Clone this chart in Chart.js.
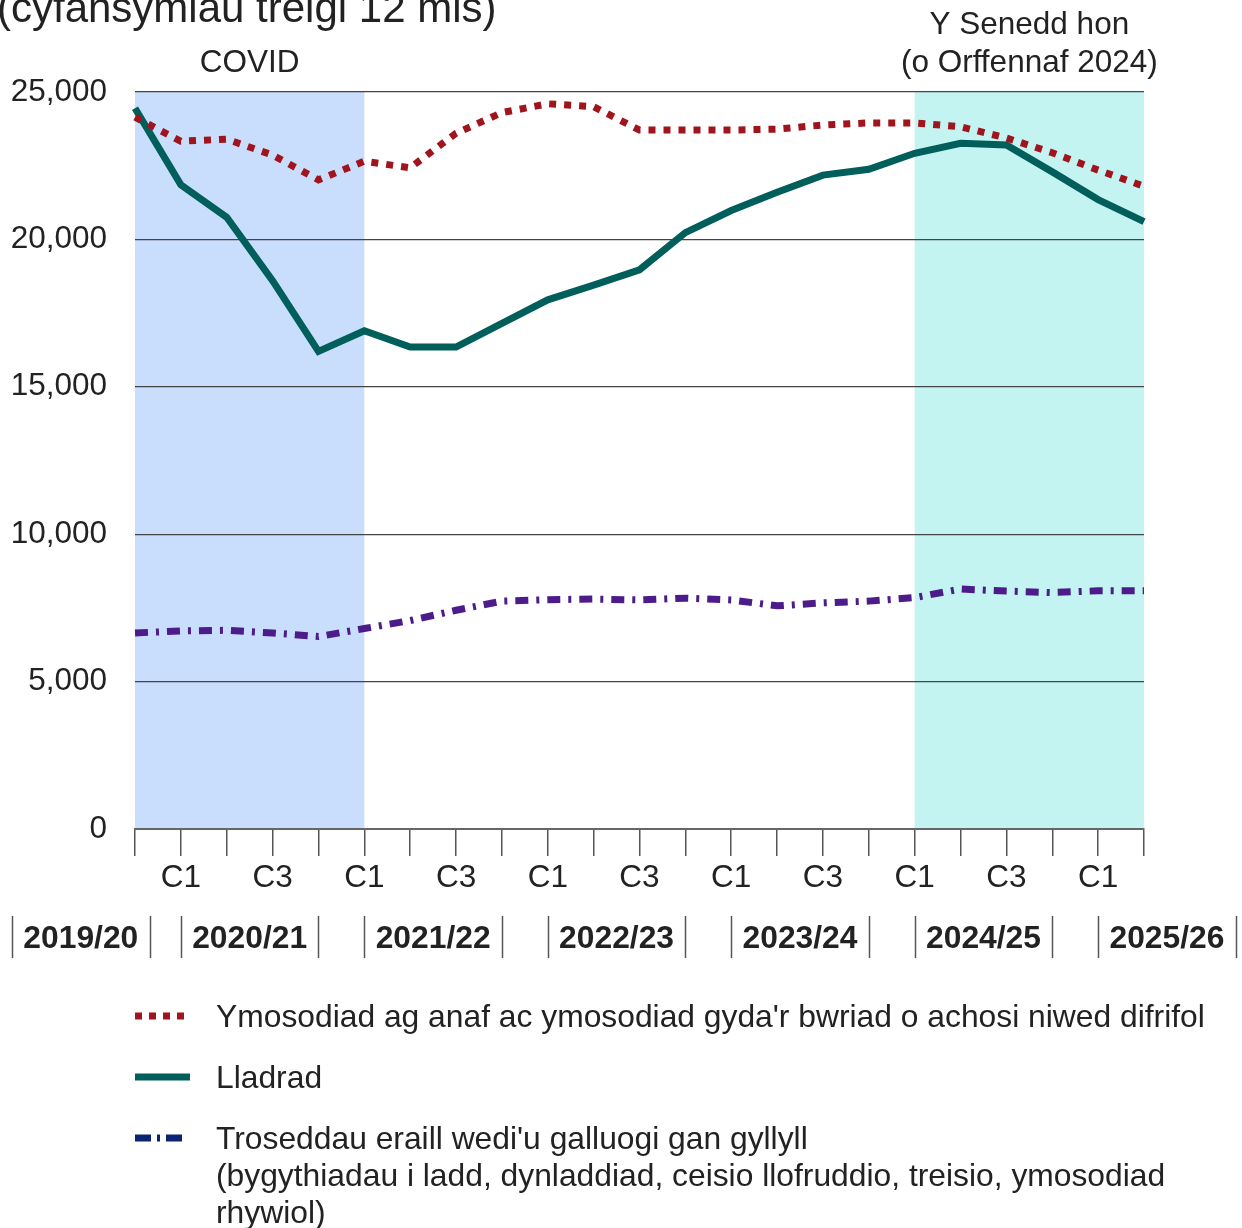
<!DOCTYPE html>
<html>
<head>
<meta charset="utf-8">
<title>Troseddau cyllyll</title>
<script src="https://cdn.jsdelivr.net/npm/chart.js@4"></script>
<style>
  body { margin: 0; background: #fff; }
  canvas { display: block; }
</style>
</head>
<body>
<canvas id="chart" width="1242" height="1228"></canvas>
<script>
// Data (rolling 12 month totals)
const periods = [
  '2019/20 C4',
  '2020/21 C1', '2020/21 C2', '2020/21 C3', '2020/21 C4',
  '2021/22 C1', '2021/22 C2', '2021/22 C3', '2021/22 C4',
  '2022/23 C1', '2022/23 C2', '2022/23 C3', '2022/23 C4',
  '2023/24 C1', '2023/24 C2', '2023/24 C3', '2023/24 C4',
  '2024/25 C1', '2024/25 C2', '2024/25 C3', '2024/25 C4',
  '2025/26 C1', '2025/26 C2'
];
const years = ['2019/20', '2020/21', '2021/22', '2022/23', '2023/24', '2024/25', '2025/26'];
const shownQuarters = ['C1', 'C3'];
const yTicks = [0, 5000, 10000, 15000, 20000, 25000];

const ymosodiad = [24150, 23330, 23400, 22860, 22020, 22650, 22430, 23600, 24300, 24600, 24500, 23710,
  23710, 23710, 23740, 23880, 23950, 23950, 23820, 23440, 22940, 22350, 21800];
const lladrad = [24450, 21850, 20750, 18600, 16200, 16900, 16350, 16350, 17150, 17950, 18450, 18970,
  20230, 20980, 21600, 22180, 22380, 22920, 23260, 23200, 22290, 21350, 20600];
const troseddauEraill = [6650, 6720, 6740, 6650, 6530, 6800, 7070, 7420, 7730, 7780, 7800, 7770,
  7830, 7770, 7570, 7670, 7730, 7850, 8140, 8070, 8020, 8080, 8080];

const seriesNames = [
  "Ymosodiad ag anaf ac ymosodiad gyda'r bwriad o achosi niwed difrifol",
  'Lladrad',
  "Troseddau eraill wedi'u galluogi gan gyllyll"
];
const extraLegendLines = [
  '(bygythiadau i ladd, dynladdiad, ceisio llofruddio, treisio, ymosodiad',
  'rhywiol)'
];

const covidBand = ['2019/20 C4', '2021/22 C1'];
const seneddBand = ['2024/25 C1', '2025/26 C2'];

const FONT = "'Liberation Sans', Arial, sans-serif";
const TEXT = '#222';

Chart.defaults.font.family = FONT;
Chart.defaults.color = TEXT;

function drawBand(ctx, area, x, band, color) {
  const x0 = x.getPixelForValue(periods.indexOf(band[0]));
  const x1 = x.getPixelForValue(periods.indexOf(band[1]));
  ctx.fillStyle = color;
  ctx.fillRect(x0, area.top, x1 - x0, area.bottom - area.top);
}

function sample(ctx, x0, x1, y, color, width, dash) {
  ctx.save();
  ctx.strokeStyle = color;
  ctx.lineWidth = width;
  ctx.setLineDash(dash);
  ctx.beginPath();
  ctx.moveTo(x0, y);
  ctx.lineTo(x1, y);
  ctx.stroke();
  ctx.restore();
}

const extras = {
  id: 'extras',
  beforeDraw(chart) {
    const { ctx, chartArea, scales: { x } } = chart;
    ctx.save();
    drawBand(ctx, chartArea, x, covidBand, '#c9ddfd');
    drawBand(ctx, chartArea, x, seneddBand, '#c3f4f2');
    ctx.restore();
  },
  afterDraw(chart) {
    const { ctx, scales: { x } } = chart;
    ctx.save();
    ctx.fillStyle = TEXT;

    // title (cut off at the top, as in the source)
    ctx.font = '42px ' + FONT;
    ctx.textAlign = 'left';
    ctx.fillText('(cyfansymiau treigl 12 mis)', -3, 22);

    // band captions
    ctx.font = '31.5px ' + FONT;
    ctx.textAlign = 'center';
    const cx = (band) => (x.getPixelForValue(periods.indexOf(band[0])) + x.getPixelForValue(periods.indexOf(band[1]))) / 2;
    ctx.fillText('COVID', cx(covidBand), 72);
    ctx.fillText('Y Senedd hon', cx(seneddBand), 34);
    ctx.fillText('(o Orffennaf 2024)', cx(seneddBand), 72);

    // financial year row
    ctx.font = 'bold 31.8px ' + FONT;
    ctx.strokeStyle = '#555';
    ctx.lineWidth = 1.5;
    years.forEach(year => {
      const i = periods.findIndex(p => p.startsWith(year));
      const q = parseInt(periods[i].split(' ')[1].slice(1), 10);
      let left = x.getPixelForValue(i - (q - 1));
      let right = x.getPixelForValue(i - (q - 1) + 3);
      if (left < 12) { right += 12 - left; left = 12; }
      [left, right].forEach(px => {
        ctx.beginPath();
        ctx.moveTo(Math.round(px) + 0.5, 916);
        ctx.lineTo(Math.round(px) + 0.5, 958);
        ctx.stroke();
      });
      ctx.fillText(year, (left + right) / 2, 948);
    });

    // legend
    sample(ctx, 135, 190, 1016, '#a0141e', 7, [7, 7]);
    sample(ctx, 135, 190, 1077, '#005e5b', 7, []);
    sample(ctx, 135, 184, 1138, '#0a2372', 7, [16, 6, 3, 6]);
    ctx.font = '31.8px ' + FONT;
    ctx.textAlign = 'left';
    ctx.fillStyle = TEXT;
    ctx.fillText(seriesNames[0], 216, 1027);
    ctx.fillText(seriesNames[1], 216, 1088);
    ctx.fillText(seriesNames[2], 216, 1149);
    ctx.fillText(extraLegendLines[0], 216, 1186);
    ctx.fillText(extraLegendLines[1], 216, 1223);
    ctx.restore();
  }
};

const ctx = document.getElementById('chart').getContext('2d');
const chart = new Chart(ctx, {
  type: 'line',
  data: {
    labels: periods,
    datasets: [
      {
        label: seriesNames[0],
        data: ymosodiad,
        borderColor: '#a0141e',
        borderWidth: 7,
        borderDash: [7, 8],
        pointRadius: 0,
        tension: 0,
        fill: false
      },
      {
        label: seriesNames[1],
        data: lladrad,
        borderColor: '#005e5b',
        borderWidth: 7,
        pointRadius: 0,
        tension: 0,
        fill: false
      },
      {
        label: seriesNames[2],
        data: troseddauEraill,
        borderColor: '#4b1c8a',
        borderWidth: 7,
        borderDash: [13, 8, 3, 8],
        pointRadius: 0,
        tension: 0,
        fill: false
      }
    ]
  },
  options: {
    responsive: false,
    animation: false,
    layout: {
      padding: { left: 0, right: 98, top: 92, bottom: 0 }
    },
    plugins: {
      legend: { display: false },
      tooltip: { enabled: false }
    },
    scales: {
      x: {
        afterFit: (scale) => { scale.height = 399; },
        grid: {
          drawOnChartArea: false,
          drawTicks: true,
          tickLength: 27,
          color: '#555',
          lineWidth: 1.5
        },
        border: { color: '#666', width: 2 },
        ticks: {
          autoSkip: false,
          maxRotation: 0,
          padding: 3,
          color: TEXT,
          font: { size: 31.5 },
          callback: (value, index) => {
            const q = periods[index].split(' ')[1];
            return shownQuarters.includes(q) ? q : '';
          }
        }
      },
      y: {
        min: yTicks[0],
        max: yTicks[yTicks.length - 1],
        afterFit: (scale) => { scale.width = 135; },
        afterBuildTicks: (scale) => { scale.ticks = yTicks.map(v => ({ value: v })); },
        grid: {
          color: '#444',
          lineWidth: 1.3,
          drawTicks: false
        },
        border: { display: false },
        ticks: {
          padding: 28,
          color: TEXT,
          font: { size: 31.5 },
          callback: (v) => v.toLocaleString('en-US')
        }
      }
    }
  },
  plugins: [extras]
});
</script>
</body>
</html>
